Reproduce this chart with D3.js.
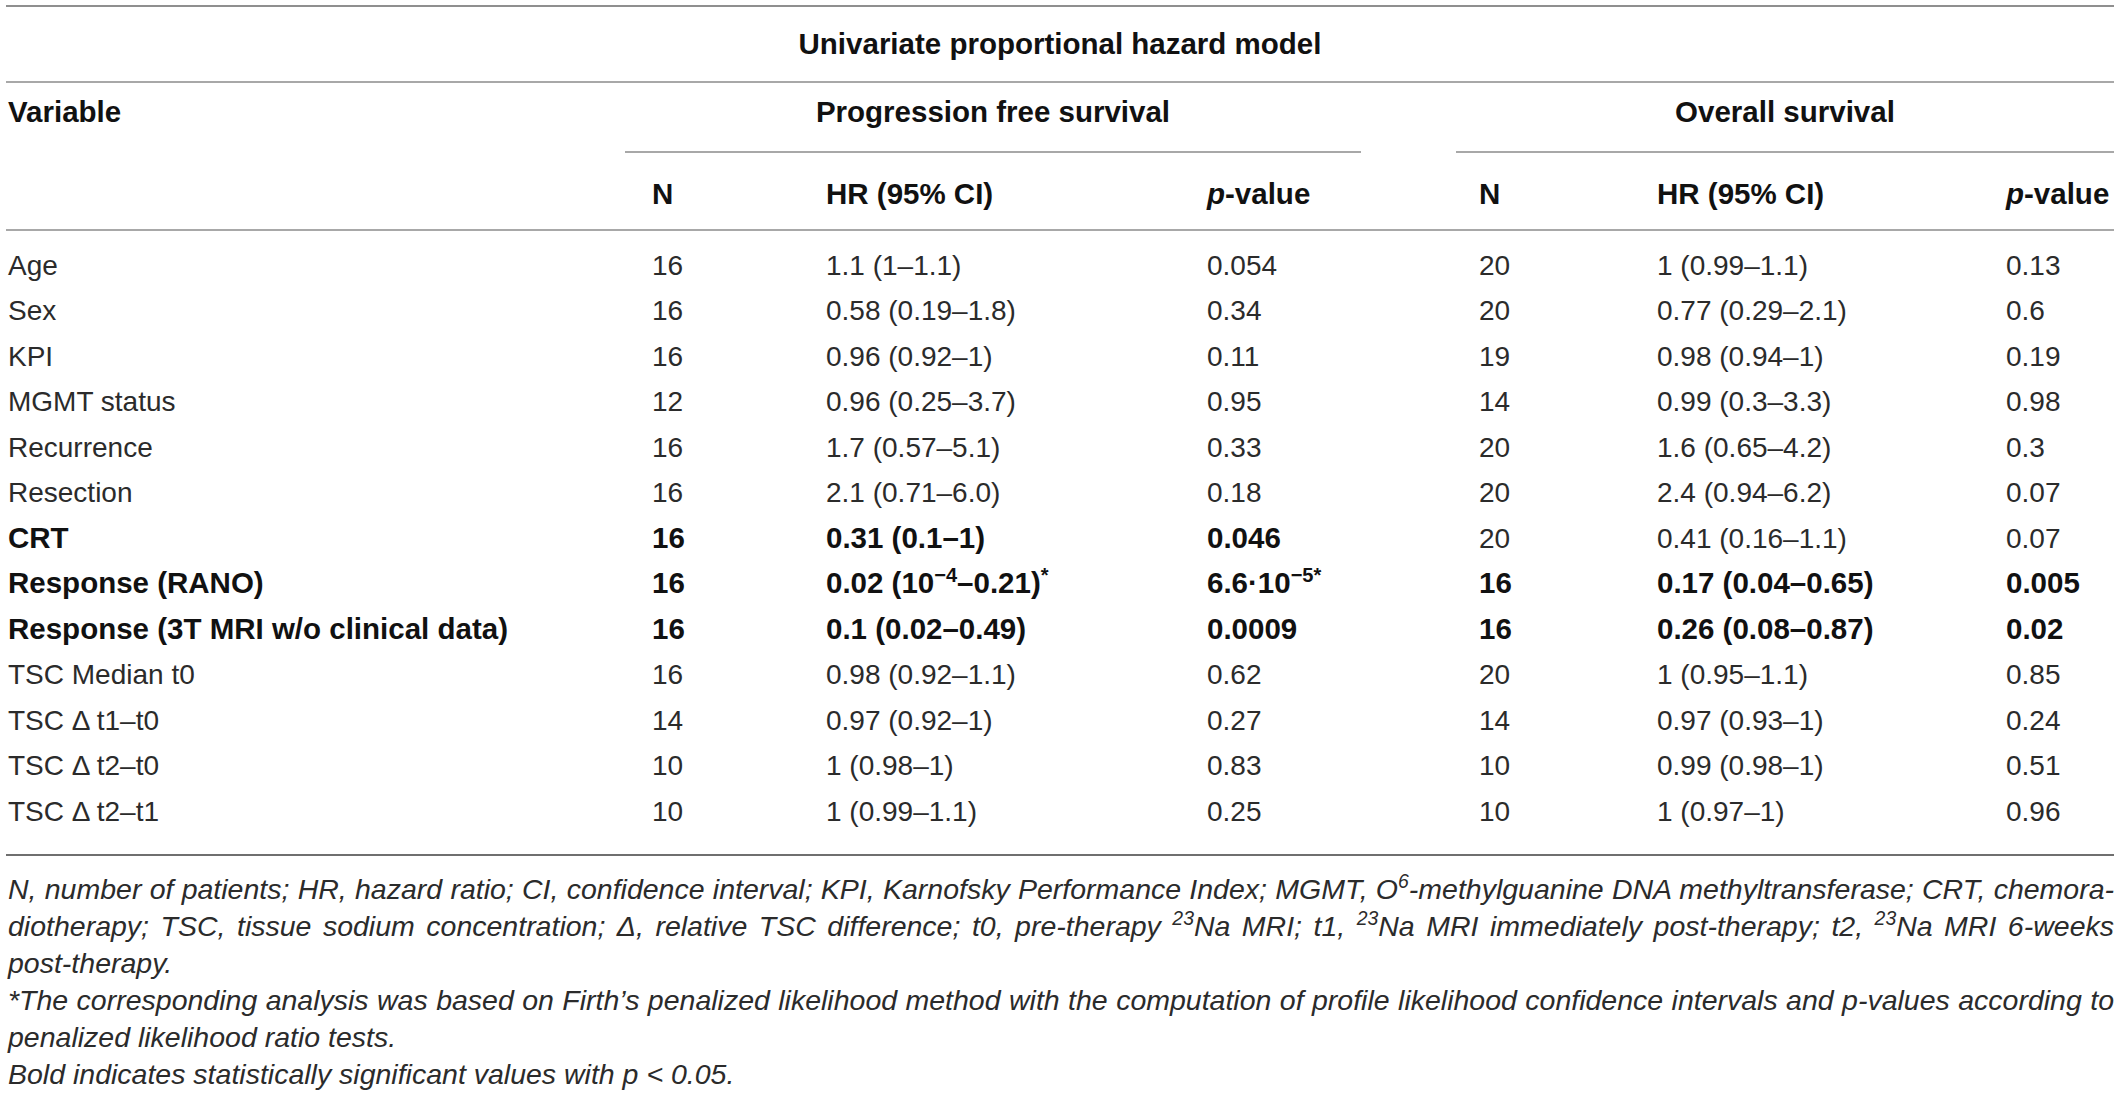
<!DOCTYPE html>
<html>
<head>
<meta charset="utf-8">
<script src="https://cdn.jsdelivr.net/npm/d3@7"></script>
<style>
  body { margin: 0; background: #fff; }
  text { font-family: "Liberation Sans", Arial, Helvetica, sans-serif; }
</style>
</head>
<body>
<div id="table"></div>
<script>
// table content
var variables = ["Age", "Sex", "KPI", "MGMT status", "Recurrence", "Resection", "CRT",
  "Response (RANO)", "Response (3T MRI w/o clinical data)", "TSC Median t0",
  "TSC \u0394 t1\u2013t0", "TSC \u0394 t2\u2013t0", "TSC \u0394 t2\u2013t1"];

var pfsN = [16, 16, 16, 12, 16, 16, 16, 16, 16, 16, 14, 10, 10];
var pfsHR = ["1.1 (1\u20131.1)", "0.58 (0.19\u20131.8)", "0.96 (0.92\u20131)", "0.96 (0.25\u20133.7)",
  "1.7 (0.57\u20135.1)", "2.1 (0.71\u20136.0)", "0.31 (0.1\u20131)", "0.02 (10^{\u22124}\u20130.21)^{*}",
  "0.1 (0.02\u20130.49)", "0.98 (0.92\u20131.1)", "0.97 (0.92\u20131)", "1 (0.98\u20131)", "1 (0.99\u20131.1)"];
var pfsP = ["0.054", "0.34", "0.11", "0.95", "0.33", "0.18", "0.046", "6.6\u00b710^{\u22125*}",
  "0.0009", "0.62", "0.27", "0.83", "0.25"];
var pfsBold = [false, false, false, false, false, false, true, true, true, false, false, false, false];

var osN = [20, 20, 19, 14, 20, 20, 20, 16, 16, 20, 14, 10, 10];
var osHR = ["1 (0.99\u20131.1)", "0.77 (0.29\u20132.1)", "0.98 (0.94\u20131)", "0.99 (0.3\u20133.3)",
  "1.6 (0.65\u20134.2)", "2.4 (0.94\u20136.2)", "0.41 (0.16\u20131.1)", "0.17 (0.04\u20130.65)",
  "0.26 (0.08\u20130.87)", "1 (0.95\u20131.1)", "0.97 (0.93\u20131)", "0.99 (0.98\u20131)", "1 (0.97\u20131)"];
var osP = ["0.13", "0.6", "0.19", "0.98", "0.3", "0.07", "0.07", "0.005", "0.02", "0.85", "0.24", "0.51", "0.96"];
var osBold = [false, false, false, false, false, false, false, true, true, false, false, false, false];

var footnotes = [
  "N, number of patients; HR, hazard ratio; CI, confidence interval; KPI, Karnofsky Performance Index; MGMT, O^{6}-methylguanine DNA methyltransferase; CRT, chemora-",
  "diotherapy; TSC, tissue sodium concentration; \u0394, relative TSC difference; t0, pre-therapy ^{23}Na MRI; t1, ^{23}Na MRI immediately post-therapy; t2, ^{23}Na MRI 6-weeks",
  "post-therapy.",
  "*The corresponding analysis was based on Firth\u2019s penalized likelihood method with the computation of profile likelihood confidence intervals and p-values according to",
  "penalized likelihood ratio tests.",
  "Bold indicates statistically significant values with p < 0.05."
];
var footnoteJustify = [true, true, false, true, false, false];

// layout
var width = 2119, height = 1096;
var fontSize = 28, boldSize = 29.5;
var left = 6, right = 2114;

var svg = d3.select("#table").append("svg")
  .attr("width", width)
  .attr("height", height);

var y = d3.scaleBand()
  .domain(variables)
  .range([242, 242 + variables.length * 45.5]);

var colX = d3.scaleOrdinal()
  .domain(["var", "pfsN", "pfsHR", "pfsP", "osN", "osHR", "osP"])
  .range([8, 652, 826, 1207, 1479, 1657, 2006]);

function rule(yy, x0, x1, color) {
  svg.append("line")
    .attr("x1", x0).attr("x2", x1)
    .attr("y1", yy).attr("y2", yy)
    .attr("stroke", color)
    .attr("stroke-width", 2);
}

// writes a string with ^{...} superscripts into a text element
function richText(sel, str) {
  var parts = str.split(/(\^\{[^}]*\})/);
  var pending = 0;
  parts.forEach(function(p) {
    if (!p) return;
    if (p.indexOf("^{") === 0) {
      sel.append("tspan")
        .attr("dy", -11 - pending)
        .attr("font-size", "0.68em")
        .text(p.slice(2, -1));
      pending = -11;
    } else {
      var t = sel.append("tspan").text(p);
      if (pending) t.attr("dy", -pending);
      pending = 0;
    }
  });
  return sel;
}

function cell(x, cy, str, bold, anchor) {
  var t = svg.append("text")
    .attr("x", x)
    .attr("y", cy + 10)
    .attr("font-size", bold ? boldSize : fontSize)
    .attr("font-weight", bold ? "bold" : "normal")
    .attr("fill", bold ? "#111" : "#2b2b2b")
    .attr("text-anchor", anchor || "start");
  return richText(t, str);
}

// rules
rule(6, left, right, "#8f8f8f");
rule(82, left, right, "#a8a8a8");
rule(152, 625, 1361, "#a8a8a8");
rule(152, 1456, right, "#a8a8a8");
rule(230, left, right, "#a8a8a8");
rule(855, left, right, "#6f6f6f");

// header
cell(1060, 44, "Univariate proportional hazard model", true, "middle");
cell(colX("var"), 112, "Variable", true);
cell(993, 112, "Progression free survival", true, "middle");
cell(1785, 112, "Overall survival", true, "middle");

["pfs", "os"].forEach(function(g) {
  cell(colX(g + "N"), 194, "N", true);
  cell(colX(g + "HR"), 194, "HR (95% CI)", true);
  var p = cell(colX(g + "P"), 194, "", true);
  p.append("tspan").attr("font-style", "italic").text("p");
  p.append("tspan").text("-value");
});

// body rows
variables.forEach(function(v, i) {
  var cy = y(v) + y.bandwidth() / 2;
  cell(colX("var"), cy, v, pfsBold[i]);
  cell(colX("pfsN"), cy, String(pfsN[i]), pfsBold[i]);
  cell(colX("pfsHR"), cy, pfsHR[i], pfsBold[i]);
  cell(colX("pfsP"), cy, pfsP[i], pfsBold[i]);
  cell(colX("osN"), cy, String(osN[i]), osBold[i]);
  cell(colX("osHR"), cy, osHR[i], osBold[i]);
  cell(colX("osP"), cy, osP[i], osBold[i]);
});

// footnotes, justified lines get extra word spacing
footnotes.forEach(function(f, i) {
  var t = svg.append("text")
    .attr("x", 8)
    .attr("y", 890 + i * 37 + 9)
    .attr("font-size", 28.5)
    .attr("font-style", "italic")
    .attr("fill", "#2b2b2b");
  richText(t, f);
  if (footnoteJustify[i]) {
    var natural = t.node().getComputedTextLength();
    var spaces = f.split(" ").length - 1;
    t.style("word-spacing", ((right - 8 - natural) / spaces) + "px");
  }
});
</script>
</body>
</html>
